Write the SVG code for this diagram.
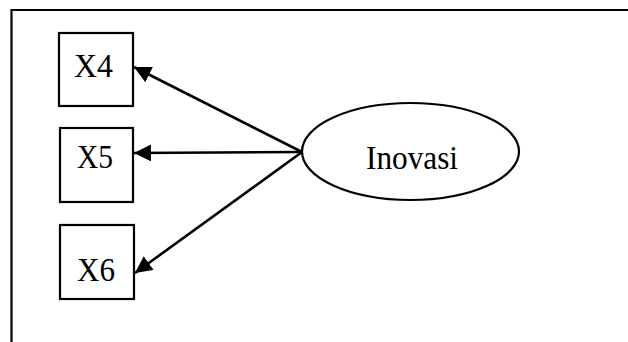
<svg xmlns="http://www.w3.org/2000/svg" width="628" height="342" viewBox="0 0 628 342">
<style>
.box{fill:#fff;stroke:#000;stroke-width:2.2}
.lbl{font-family:"Liberation Serif",serif;font-size:33px;fill:#000;text-anchor:middle}
.edge{stroke:#000;stroke-width:2.6;fill:none}
</style>
<defs>
<marker id="arr" viewBox="0 0 10 10" refX="10" refY="5" markerWidth="6.5" markerHeight="6.5" orient="auto" markerUnits="strokeWidth">
<path d="M0,0 L10,5 L0,10 Z" fill="#000"/>
</marker>
</defs>
<rect width="628" height="342" fill="#fff"/>
<path d="M11.5,342 V10 H628" fill="none" stroke="#000" stroke-width="2.2"/>
<g id="x4"><rect class="box" x="59" y="33" width="74" height="73"/><text class="lbl" x="93.5" y="77" textLength="39" lengthAdjust="spacingAndGlyphs">X4</text></g>
<g id="x5"><rect class="box" x="60" y="128" width="73" height="74"/><text class="lbl" x="95" y="168" textLength="36" lengthAdjust="spacingAndGlyphs">X5</text></g>
<g id="x6"><rect class="box" x="60" y="225" width="74" height="74"/><text class="lbl" x="96" y="281" textLength="38" lengthAdjust="spacingAndGlyphs">X6</text></g>
<g id="inovasi"><ellipse class="box" cx="410.5" cy="151.5" rx="108.5" ry="48.5"/><text class="lbl" x="412" y="169" textLength="92" lengthAdjust="spacingAndGlyphs">Inovasi</text></g>
<g id="connectors">
<line class="edge" x1="302" y1="152" x2="134" y2="67" marker-end="url(#arr)"/>
<line class="edge" x1="302" y1="152" x2="134" y2="153" marker-end="url(#arr)"/>
<line class="edge" x1="302" y1="152" x2="135" y2="273" marker-end="url(#arr)"/>
</g>
</svg>
